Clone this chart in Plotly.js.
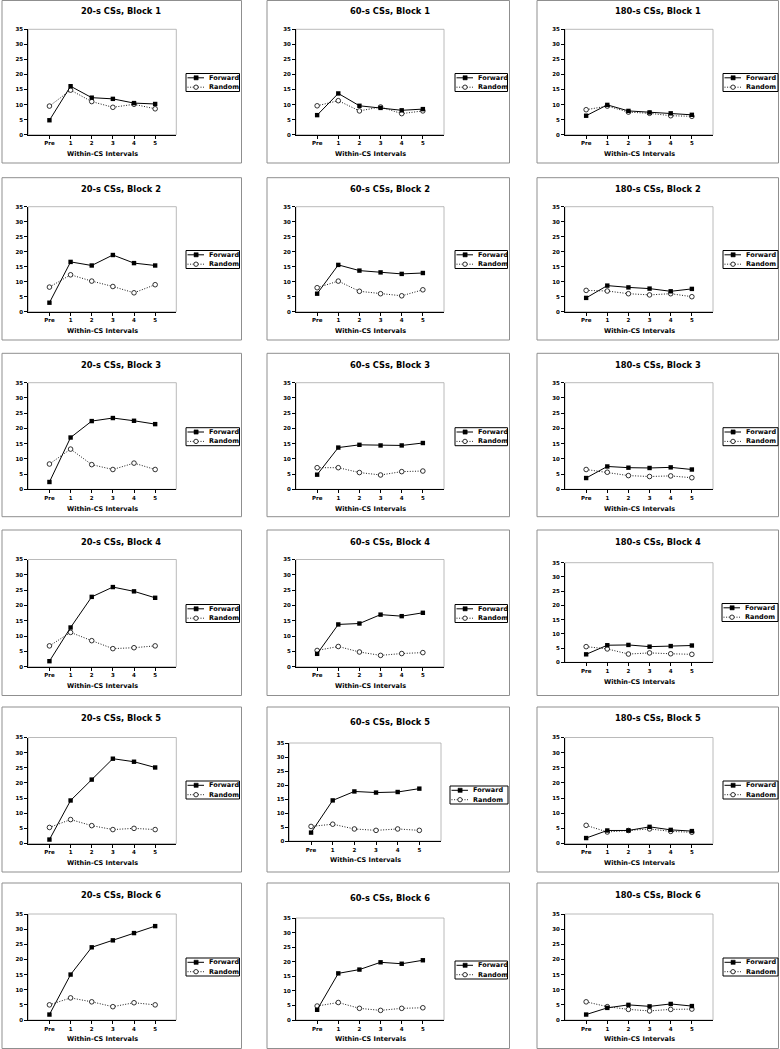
<!DOCTYPE html>
<html><head><meta charset="utf-8">
<script src="https://cdn.plot.ly/plotly-3.0.1.min.js"></script>
<style>html,body{margin:0;padding:0;background:#fff}#chart{width:780px;height:1049px}</style>
</head><body><div id="chart"></div>
<script>
const intervals = ['Pre','1','2','3','4','5'];
const durations = ['20','60','180'];
const blocks = [1,2,3,4,5,6];
const seriesNames = ['Forward','Random'];
const xAxisTitle = 'Within-CS Intervals';
const yTicks = [0,5,10,15,20,25,30,35];

const forward20 = [
 [4.8,16.1,12.3,11.9,10.5,10.2],
 [3.0,16.6,15.4,18.9,16.2,15.4],
 [2.4,17.0,22.4,23.4,22.5,21.4],
 [1.8,12.8,22.8,26.0,24.6,22.5],
 [1.3,14.2,21.1,28.0,27.0,25.1],
 [1.8,15.0,24.0,26.3,28.7,31.0]
];
const random20 = [
 [9.5,14.8,11.0,9.1,10.1,8.6],
 [8.2,12.3,10.2,8.4,6.3,9.0],
 [8.3,13.2,8.1,6.5,8.6,6.5],
 [6.8,11.2,8.5,5.9,6.2,6.8],
 [5.3,7.9,5.9,4.6,5.0,4.6],
 [5.0,7.3,6.0,4.4,5.7,5.0]
];
const forward60 = [
 [6.5,13.7,9.6,8.9,8.1,8.5],
 [6.0,15.6,13.7,13.1,12.6,12.9],
 [4.8,13.7,14.6,14.4,14.4,15.2],
 [4.2,13.8,14.1,17.0,16.5,17.6],
 [3.0,14.5,17.7,17.3,17.5,18.7],
 [3.5,16.0,17.3,19.8,19.3,20.5]
];
const random60 = [
 [9.6,11.3,7.9,9.2,7.0,7.9],
 [8.0,10.2,6.8,6.0,5.3,7.3],
 [7.1,7.1,5.5,4.7,5.8,6.0],
 [5.3,6.6,4.8,3.7,4.3,4.6],
 [5.2,6.0,4.3,3.8,4.3,3.8],
 [4.8,6.0,4.0,3.3,4.0,4.2]
];
const forward180 = [
 [6.3,9.9,7.9,7.4,7.1,6.6],
 [4.6,8.7,8.1,7.7,6.8,7.6],
 [3.7,7.5,7.1,7.0,7.2,6.5],
 [2.8,6.0,6.1,5.5,5.7,5.9],
 [1.8,4.3,4.3,5.5,4.5,4.1],
 [1.8,4.0,5.0,4.5,5.3,4.6]
];
const random180 = [
 [8.3,9.5,7.5,7.1,6.3,6.1],
 [7.1,6.9,6.0,5.6,6.0,5.0],
 [6.5,5.6,4.5,4.2,4.4,3.8],
 [5.5,4.7,2.9,3.3,3.0,2.8],
 [6.0,3.8,4.3,4.8,4.0,3.7],
 [6.0,4.4,3.5,3.0,3.5,3.6]
];

const forwardByDur = [forward20, forward60, forward180];
const randomByDur = [random20, random60, random180];

// ---- layout geometry (pixels) ----
const W = 780, H = 1049;
const FONT = 'DejaVu Sans, Verdana, sans-serif';
const rowGeo = [
 {box:[0.5,163], ty:11, y35:29.3, y0:134.7, leg:82.5},
 {box:[177.7,340], ty:189, y35:206.7, y0:311.7, leg:259.5},
 {box:[353.3,516.7], ty:365, y35:382.7, y0:489.3, leg:436.7},
 {box:[530,695.5], ty:541.5, y35:559.5, y0:666.7, leg:613.5},
 {box:[707,872], ty:718, y35:737.5, y0:843.5, leg:790},
 {box:[883,1048.5], ty:895, y35:914, y0:1020, leg:967}
];
const colGeo = [
 {bx:[2,241.5], tx:120.5, px:[28.3,176.3], legx:[186,239.5]},
 {bx:[267,509.5], tx:390, px:[296,444], legx:[455,507.5]},
 {bx:[537,778.5], tx:657.7, px:[565,713], legx:[723,778]}
];
const overrides = {
 '3_2': {y35:562.7, y0:662.3, leg:612.5, legx:[722,778]},
 '4_1': {ty:722, y35:743, y0:841, px:[289.4,441], leg:795, legx:[450,508]},
 '5_1': {ty:898, y35:918, y0:1020, leg:970}
};

const X = p => p / W;
const Y = p => 1 - p / H;

const data = [];
const layout = {
  width: W, height: H,
  margin: {l:0, r:0, t:0, b:0},
  paper_bgcolor: '#fff', plot_bgcolor: '#fff',
  showlegend: false,
  shapes: [], annotations: []
};

const tickFont = {family: FONT, size: 5.5, color: '#000', weight: 'bold'};
const DOT = '1px,1.6px';

blocks.forEach((b, r) => {
  durations.forEach((d, c) => {
    const k = r * 3 + c + 1;
    const sfx = k === 1 ? '' : String(k);
    const g = Object.assign({}, rowGeo[r], colGeo[c], overrides[r + '_' + c] || {});

    // panel frame
    layout.shapes.push({type:'rect', xref:'paper', yref:'paper',
      x0:X(g.bx[0]), x1:X(g.bx[1]), y0:Y(g.box[0]), y1:Y(g.box[1]),
      line:{color:'#8f8f8f', width:1}, fillcolor:'rgba(0,0,0,0)'});
    // plot area border (gray)
    layout.shapes.push({type:'rect', xref:'paper', yref:'paper', layer:'below',
      x0:X(g.px[0]), x1:X(g.px[1]), y0:Y(g.y0), y1:Y(g.y35),
      line:{color:'#a8a8a8', width:0.8}, fillcolor:'rgba(0,0,0,0)'});

    layout['xaxis' + sfx] = {
      domain:[X(g.px[0]), X(g.px[1])], anchor:'y' + sfx,
      type:'category', categoryorder:'array', categoryarray:intervals,
      range:[-1, 6], showline:true, linecolor:'#000', linewidth:1,
      ticks:'outside', ticklen:3, tickwidth:1, tickcolor:'#000',
      tickfont:tickFont, showgrid:false, zeroline:false, fixedrange:true
    };
    layout['yaxis' + sfx] = {
      domain:[Y(g.y0), Y(g.y35)], anchor:'x' + sfx,
      range:[0, 35], tickvals:yTicks, showline:true, linecolor:'#000', linewidth:1,
      ticks:'outside', ticklen:3, tickwidth:1, tickcolor:'#000',
      tickfont:tickFont, showgrid:false, zeroline:false, fixedrange:true
    };

    data.push({type:'scatter', mode:'lines+markers', name:seriesNames[1],
      x:intervals, y:randomByDur[c][r], xaxis:'x' + sfx, yaxis:'y' + sfx,
      line:{color:'#000', width:0.9, dash:DOT},
      marker:{symbol:'circle', size:4.6, color:'#fff', line:{color:'#000', width:0.8}},
      cliponaxis:false});
    data.push({type:'scatter', mode:'lines+markers', name:seriesNames[0],
      x:intervals, y:forwardByDur[c][r], xaxis:'x' + sfx, yaxis:'y' + sfx,
      line:{color:'#000', width:1},
      marker:{symbol:'square', size:4.4, color:'#000'},
      cliponaxis:false});

    // panel title
    layout.annotations.push({xref:'paper', yref:'paper', x:X(g.tx), y:Y(g.ty),
      text:d + '-s CSs, Block ' + b, showarrow:false, xanchor:'center', yanchor:'middle',
      font:{family:FONT, size:8.3, color:'#000', weight:'bold'}});
    // x-axis title
    layout.annotations.push({xref:'paper', yref:'paper', x:X((g.px[0] + g.px[1]) / 2), y:Y(g.y0 + 19.4),
      text:xAxisTitle, showarrow:false, xanchor:'center', yanchor:'middle',
      font:{family:FONT, size:6.5, color:'#000', weight:'bold'}});

    // legend
    const lx0 = g.legx[0], lx1 = g.legx[1], cy = g.leg;
    layout.shapes.push({type:'rect', xref:'paper', yref:'paper',
      x0:X(lx0), x1:X(lx1), y0:Y(cy - 9), y1:Y(cy + 9),
      line:{color:'#000', width:1}, fillcolor:'#fff'});
    const ry = [cy - 4.7, cy + 4.7];
    layout.shapes.push({type:'line', xref:'paper', yref:'paper',
      x0:X(lx0 + 1.5), x1:X(lx0 + 18), y0:Y(ry[0]), y1:Y(ry[0]),
      line:{color:'#000', width:1}});
    layout.shapes.push({type:'rect', xref:'paper', yref:'paper',
      x0:X(lx0 + 8), x1:X(lx0 + 12.2), y0:Y(ry[0] - 2.1), y1:Y(ry[0] + 2.1),
      line:{color:'#000', width:0.5}, fillcolor:'#000'});
    layout.shapes.push({type:'line', xref:'paper', yref:'paper',
      x0:X(lx0 + 1.5), x1:X(lx0 + 18), y0:Y(ry[1]), y1:Y(ry[1]),
      line:{color:'#000', width:0.9, dash:DOT}});
    layout.shapes.push({type:'circle', xref:'paper', yref:'paper',
      x0:X(lx0 + 7.8), x1:X(lx0 + 12.2), y0:Y(ry[1] - 2.2), y1:Y(ry[1] + 2.2),
      line:{color:'#000', width:0.8}, fillcolor:'#fff'});
    seriesNames.forEach((nm, i) => {
      layout.annotations.push({xref:'paper', yref:'paper', x:X(lx0 + 20.5), y:Y(ry[i]),
        text:nm, showarrow:false, xanchor:'left', yanchor:'middle',
        font:{family:FONT, size:6.5, color:'#000', weight:'bold'}});
    });
  });
});

Plotly.newPlot('chart', data, layout, {displayModeBar:false, staticPlot:true});
</script>
</body></html>
